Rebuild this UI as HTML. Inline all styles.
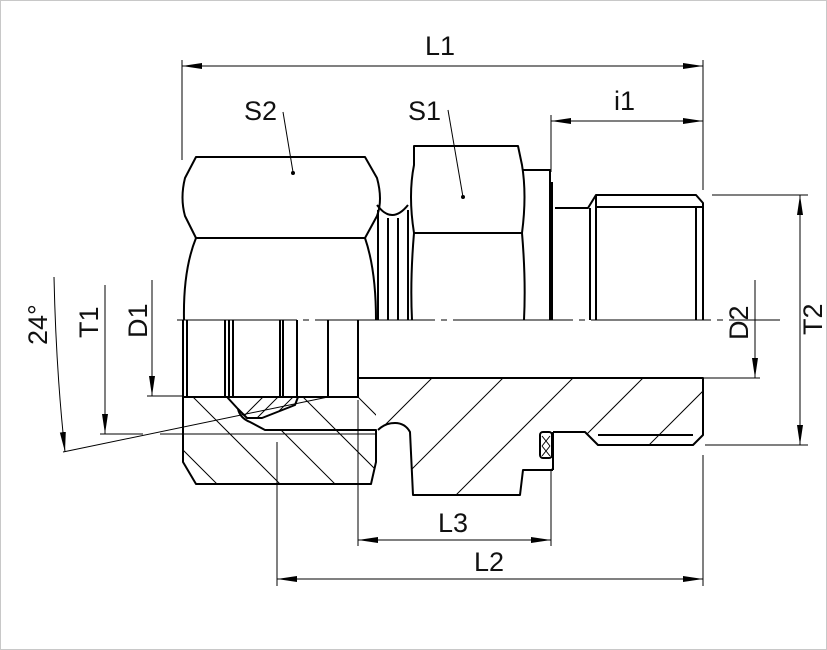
<!DOCTYPE html>
<html><head><meta charset="utf-8"><style>
html,body{margin:0;padding:0;background:#fff}
svg{display:block}
text{font-family:"Liberation Sans",sans-serif;font-size:27px;fill:#111}
</style></head><body>
<svg width="827" height="650" viewBox="0 0 827 650" xmlns="http://www.w3.org/2000/svg">
<defs>
<marker id="a" viewBox="0 0 20 8" refX="20" refY="4" markerWidth="20" markerHeight="8" markerUnits="userSpaceOnUse" orient="auto-start-reverse"><path d="M0,1 L20,4 L0,7z" fill="#000"/></marker>
<clipPath id="nutc"><path d="M183,397 H227 L238,409 Q240,418 250,422 L265,430 H376 V462 L371,484 H196 L183,462 Z M298,397 H358 V397 L376,397 V430 H283 Z"/></clipPath>
<clipPath id="ringc"><path d="M228,397 H298 L295,405 L262,418 H247 L238,409 Z"/></clipPath>
<clipPath id="bodyc"><path d="M358,378 H703 V435 L693,445 H598 L585,432 H553 V470 H523 L520,495 H413 L410,432 Q405,423 395,423 Q385,423 378,430 L358,400 Z"/></clipPath>
</defs>
<rect x="0.5" y="0.5" width="826" height="649" fill="#fff" stroke="#c8c8c8"/>
<g fill="none" stroke="#000" stroke-width="1">
<line x1="182" y1="60" x2="182" y2="160"/><line x1="703" y1="60" x2="703" y2="190"/>
<line x1="182" y1="66" x2="703" y2="66" marker-start="url(#a)" marker-end="url(#a)"/>
<line x1="551" y1="115" x2="551" y2="172"/>
<line x1="551" y1="121" x2="703" y2="121" marker-start="url(#a)" marker-end="url(#a)"/>
<line x1="283" y1="112" x2="293" y2="172"/><circle cx="293" cy="173" r="1.5" fill="#000"/>
<line x1="448" y1="110" x2="463" y2="197"/><circle cx="463" cy="197" r="1.5" fill="#000"/>
<line x1="712" y1="195" x2="808" y2="195"/><line x1="705" y1="445" x2="808" y2="445"/>
<line x1="800" y1="195" x2="800" y2="445" marker-start="url(#a)" marker-end="url(#a)"/>
<line x1="703" y1="378" x2="760" y2="378"/>
<line x1="755" y1="280" x2="755" y2="378" marker-end="url(#a)"/>
<line x1="147" y1="396" x2="183" y2="396"/>
<line x1="152" y1="280" x2="152" y2="396" marker-end="url(#a)"/>
<line x1="100" y1="434" x2="143" y2="434"/><line x1="160" y1="434" x2="376" y2="434"/>
<line x1="105" y1="285" x2="105" y2="434" marker-end="url(#a)"/>
<line x1="63" y1="452" x2="328" y2="397"/>
<path d="M54,277 Q56,370 65,452" marker-end="url(#a)"/>
<line x1="358" y1="400" x2="358" y2="546"/><line x1="551" y1="470" x2="551" y2="546"/>
<line x1="358" y1="540" x2="551" y2="540" marker-start="url(#a)" marker-end="url(#a)"/>
<line x1="277" y1="442" x2="277" y2="586"/><line x1="703" y1="455" x2="703" y2="586"/>
<line x1="277" y1="579" x2="703" y2="579" marker-start="url(#a)" marker-end="url(#a)"/>
<line x1="177" y1="320" x2="780" y2="320" stroke-dasharray="120,6,6,6"/>
<g clip-path="url(#nutc)">
<path d="M193,397 L290,494 M248,397 L345,494 M303,397 L400,494 M183,450 L230,497 M358,397 L400,439"/>
</g>
<g clip-path="url(#ringc)">
<path d="M240,420 L265,395 M255,420 L280,395 M270,420 L295,395"/>
</g>
<g clip-path="url(#bodyc)">
<path d="M810,0 L310,500 M881,0 L381,500 M951,0 L451,500 M1021,0 L521,500 M1094,0 L594,500"/>
</g>
</g>
<g fill="none" stroke="#000" stroke-width="2" stroke-linejoin="round">
<path d="M196,157 H365 L377,178 Q383,200 377,216 L365,238 H196 L185,216 Q180,198 185,178 Z"/>
<path d="M196,238 Q183,270 184,320 M365,238 Q376,270 376,320"/>
<path d="M183,320 V462 L196,484 H371 L376,462 V430 H265 L250,422 Q240,418 238,409 L227,397 H183"/>
<path d="M227,397 H358 V320"/>
<path d="M238,409 L247,418 H262 L295,405 L298,397"/>
<path d="M187,320 V396 M225,320 V396 M229,320 V396 M233,320 V396 M280,320 V396 M283,320 V396 M297,320 V396 M328,320 V396"/>
<path d="M377,205 Q392,225 408,205 M378,210 V320 M388,218 V320 M398,218 V320 M408,210 V320"/>
<path d="M414,146 H518 L522,165 Q527,195 522,233 H414 Q408,195 414,165 Z M414,233 Q410,280 412,320 M522,233 Q526,280 524,320"/>
<path d="M522,170 H550 V320 M552,182 V320 M555,208 H588 L596,195 H696 L703,203 V320 M590,208 V320 M596,195 V320 M596,207 H703 M696,207 V320"/>
<path d="M358,378 H703 V435 L693,445 H598 L585,432 H553 M553,470 H523 L520,495 H413 L410,432 Q405,423 395,423 Q385,423 378,430"/>
<path d="M553,432 V470 M598,435 H693"/>
<rect x="540" y="432" width="12" height="26" rx="3"/>
</g>
<path d="M542,436 L550,446 M550,436 L542,446 M542,446 L550,456 M550,446 L542,456" stroke="#000" stroke-width="1"/>
<text x="425" y="55">L1</text>
<text x="614" y="110">i1</text>
<text x="244" y="120">S2</text>
<text x="408" y="120">S1</text>
<text x="438" y="532">L3</text>
<text x="474" y="571">L2</text>
<text transform="translate(47,345) rotate(-90)">24°</text>
<text transform="translate(98,338) rotate(-90)">T1</text>
<text transform="translate(147,338) rotate(-90)">D1</text>
<text transform="translate(748,340) rotate(-90)">D2</text>
<text transform="translate(822,335) rotate(-90)">T2</text>
</svg>
</body></html>
